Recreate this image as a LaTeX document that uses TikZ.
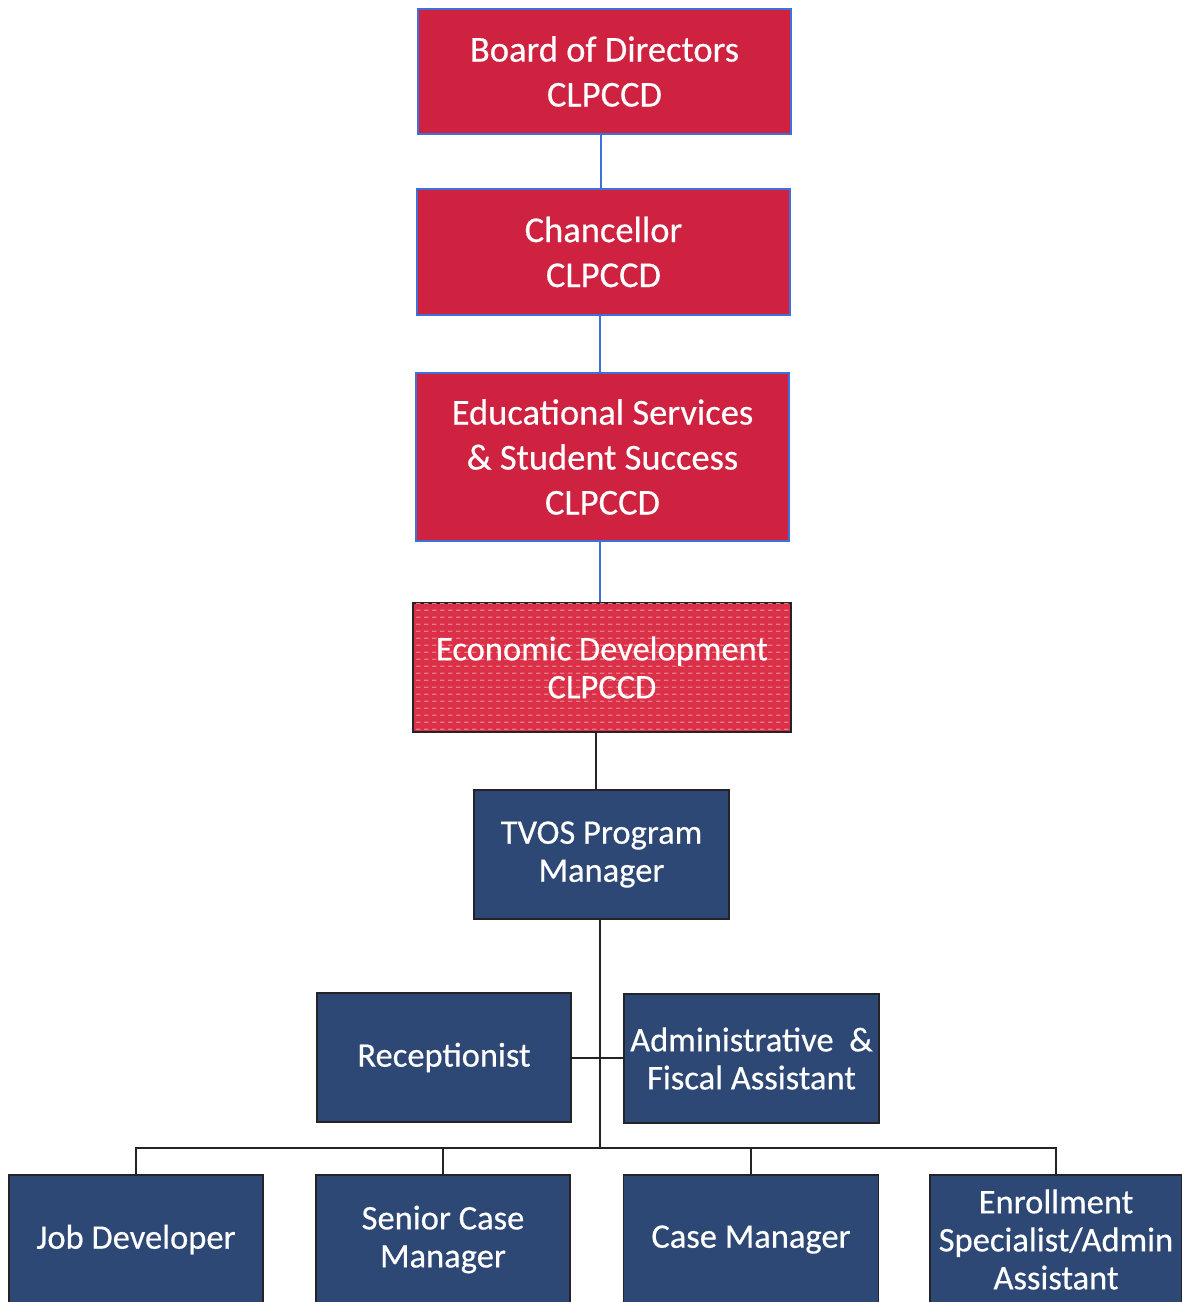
\documentclass[tikz,border=0pt]{standalone}
\usepackage{fontspec}
\setmainfont{Carlito}
\newfontfamily\boxfont[FakeBold=0.4]{Carlito}
\usetikzlibrary{patterns}
\definecolor{boxred}{RGB}{206,34,64}
\definecolor{econred}{RGB}{218,48,72}
\definecolor{brickpink}{RGB}{236,120,135}
\definecolor{navy}{RGB}{46,72,117}
\definecolor{edgeblue}{RGB}{62,112,215}
\definecolor{edgedark}{RGB}{35,35,40}
\pgfdeclarepatternformonly{econrows}{\pgfpointorigin}{\pgfpoint{8pt}{6.5pt}}{\pgfpoint{8pt}{6.5pt}}{%
  \pgfpathrectangle{\pgfpoint{0pt}{0pt}}{\pgfpoint{5pt}{1.6pt}}\pgfusepath{fill}}
\tikzset{
  redbox/.style={draw=edgeblue, line width=1.6pt, fill=boxred, text=white,
    align=center, font=\boxfont\fontsize{36.5}{45}\selectfont, inner sep=0pt},
  econbox/.style={draw=edgedark, line width=1.6pt, fill=econred, text=white,
    align=center, font=\boxfont\fontsize{34.5}{38}\selectfont, inner sep=0pt,
    postaction={pattern=econrows, pattern color=brickpink}},
  navybox/.style={draw=edgedark, line width=1.6pt, fill=navy, text=white,
    align=center, font=\boxfont\fontsize{34.5}{38}\selectfont, inner sep=0pt},
  blueline/.style={draw=edgeblue, line width=1.6pt},
  darkline/.style={draw=edgedark, line width=1.8pt}
}
\begin{document}
\begin{tikzpicture}[x=1pt,y=-1pt]
\useasboundingbox (0,0) rectangle (1182,1302);
\node[redbox, minimum width=373pt, minimum height=125pt] (board) at (604.5,71.5) {Board of Directors\\CLPCCD};
\node[redbox, minimum width=373pt, minimum height=126pt] (chanc) at (603.5,252) {Chancellor\\CLPCCD};
\node[redbox, minimum width=373pt, minimum height=168pt] (edu) at (602.5,457) {Educational Services\\\& Student Success\\CLPCCD};
\node[econbox, minimum width=378pt, minimum height=129pt] (econ) at (602,667.5) {};
\node[text=white, align=center, font=\boxfont\fontsize{34.5}{38}\selectfont, inner sep=0pt] (econtext) at (econ.center) {Economic Development\\CLPCCD};
\node[navybox, minimum width=255pt, minimum height=129pt] (tvos) at (601.5,854.5) {TVOS Program\\Manager};
\node[navybox, minimum width=254pt, minimum height=129pt] (recep) at (444,1057.5) {Receptionist};
\node[navybox, minimum width=255pt, minimum height=129pt] (admin) at (751.5,1058.5) {Administrative~~\&\\Fiscal Assistant};
\node[navybox, minimum width=254pt, minimum height=129pt] (job) at (136,1239.5) {Job Developer};
\node[navybox, minimum width=254pt, minimum height=129pt] (senior) at (443,1239.5) {Senior Case\\Manager};
\node[navybox, minimum width=255pt, minimum height=129pt] (case) at (751,1239.5) {Case Manager};
\node[navybox, minimum width=252pt, minimum height=129pt] (enroll) at (1056,1239.5) {Enrollment\\Specialist/Admin\\Assistant};
\coordinate (hub) at (600,1148);
\coordinate (midbar) at (600,1058);
% connectors
\draw[blueline] (board.south -| 601,0) -- (chanc.north -| 601,0);
\draw[blueline] (chanc.south -| 600,0) -- (edu.north -| 600,0);
\draw[blueline] (edu.south -| 600,0) -- (econ.north -| 600,0);
\draw[darkline] (econ.south -| 596,0) -- (tvos.north -| 596,0);
\draw[darkline] (tvos.south -| hub) -- (hub);
\draw[darkline] (recep.east |- midbar) -- (admin.west |- midbar);
\draw[darkline] (job.north) -- (job.north |- hub) -- (enroll.north |- hub) -- (enroll.north);
\draw[darkline] (senior.north) -- (senior.north |- hub);
\draw[darkline] (case.north) -- (case.north |- hub);
\end{tikzpicture}
\end{document}
